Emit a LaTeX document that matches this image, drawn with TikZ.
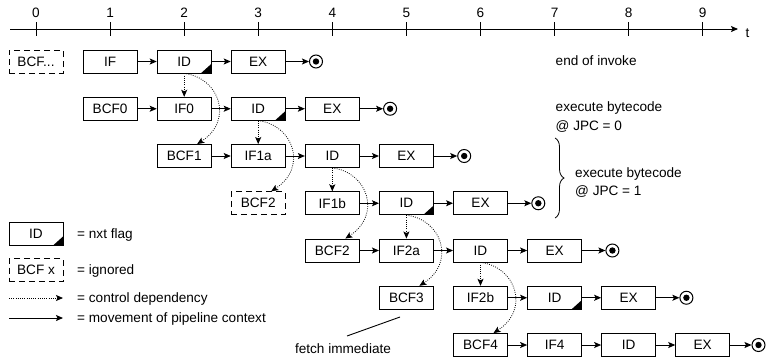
\documentclass[tikz,border=0pt]{standalone}
\usepackage{fontspec}
\setmainfont{Liberation Sans}
\usetikzlibrary{arrows.meta,decorations.pathreplacing}
\begin{document}
\begin{tikzpicture}[x=1pt,y=-1pt,
  every node/.style={font=\fontsize{13.6}{16}\selectfont},
  stage/.style={draw, line width=0.9pt, minimum width=54pt, minimum height=23pt, inner sep=0pt},
  ign/.style={stage, dash pattern=on 6pt off 4pt},
  flag/.style={path picture={\fill (path picture bounding box.south east) -- ++(-10pt,0pt) -- ++(10pt,9pt) -- cycle;}},
  endc/.style={circle, draw, line width=1pt, minimum size=13pt, inner sep=0pt,
    path picture={\fill (path picture bounding box.center) circle (3.2pt);}},
  mv/.style={line width=0.9pt, -{Stealth[length=7pt,width=6pt,inset=1.5pt]}},
  dep/.style={line width=0.8pt, dash pattern=on 0.8pt off 1.4pt, -{Stealth[length=7pt,width=6pt,inset=1.5pt]}},
  lbl/.style={anchor=base west, inner sep=0pt}
]
\useasboundingbox (0,0) rectangle (766,357);

% time axis
\coordinate (ax0) at (10,29);
\coordinate (ax1) at (738,29);
\draw[mv] (ax0) -- (ax1);
\foreach \t in {0,...,9} {
  \coordinate (tk\t) at ({36+74.08*\t},29);
  \draw[line width=0.9pt] ([yshift=7pt]tk\t) -- ([yshift=-7pt]tk\t);
  \node[anchor=base, inner sep=0pt] (tl\t) at ({36+74.08*\t},17) {\t};
}
\node[anchor=base, inner sep=0pt] (tlab) at (747.5,37) {t};

% row 1  (y=61.5)
\node[ign]        (r1a) at (36,61.5)    {BCF...};
\node[stage]      (r1b) at (110.1,61.5) {IF};
\node[stage,flag] (r1c) at (184.2,61.5) {ID};
\node[stage]      (r1d) at (258.2,61.5) {EX};
\node[endc]       (r1e) at (316,61.5) {};
% row 2
\node[stage]      (r2a) at (110.1,108.75) {BCF0};
\node[stage]      (r2b) at (184.2,108.75) {IF0};
\node[stage,flag] (r2c) at (258.2,108.75) {ID};
\node[stage]      (r2d) at (332.3,108.75) {EX};
\node[endc]       (r2e) at (390.1,108.75) {};
% row 3
\node[stage]      (r3a) at (184.2,156) {BCF1};
\node[stage]      (r3b) at (258.2,156) {IF1a};
\node[stage]      (r3c) at (332.3,156) {ID};
\node[stage]      (r3d) at (406.4,156) {EX};
\node[endc]       (r3e) at (464.2,156) {};
% row 4
\node[ign]        (r4a) at (258.2,203.25) {BCF2};
\node[stage]      (r4b) at (332.3,203.25) {IF1b};
\node[stage,flag] (r4c) at (406.4,203.25) {ID};
\node[stage]      (r4d) at (480.5,203.25) {EX};
\node[endc]       (r4e) at (538.3,203.25) {};
% row 5
\node[stage]      (r5a) at (332.3,250.5) {BCF2};
\node[stage]      (r5b) at (406.4,250.5) {IF2a};
\node[stage]      (r5c) at (480.5,250.5) {ID};
\node[stage]      (r5d) at (554.6,250.5) {EX};
\node[endc]       (r5e) at (612.4,250.5) {};
% row 6
\node[stage]      (r6a) at (406.4,297.75) {BCF3};
\node[stage]      (r6b) at (480.5,297.75) {IF2b};
\node[stage,flag] (r6c) at (554.6,297.75) {ID};
\node[stage]      (r6d) at (628.6,297.75) {EX};
\node[endc]       (r6e) at (686.4,297.75) {};
% row 7
\node[stage]      (r7a) at (480.5,345) {BCF4};
\node[stage]      (r7b) at (554.6,345) {IF4};
\node[stage]      (r7c) at (628.6,345) {ID};
\node[stage]      (r7d) at (702.7,345) {EX};
\node[endc]       (r7e) at (758.5,345) {};

% movement arrows
\foreach \r in {2,3,5,7} {
  \draw[mv] (r\r a) -- (r\r b);
}
\foreach \r in {1,...,7} {
  \draw[mv] (r\r b) -- (r\r c);
  \draw[mv] (r\r c) -- (r\r d);
  \draw[mv] (r\r d) -- (r\r e);
}

% control dependencies
\foreach \r/\s/\u in {1/2/3,2/3/4,3/4/5,4/5/6,5/6/7} {
  \draw[dep] (r\r c.south) -- (r\s b.north);
  \draw[dep] (r\r c.south) .. controls +(35,4) and +(37,-24) .. ([xshift=13pt]r\u a.north);
}

% right-hand annotations
\node[lbl] (t1) at (555.5,65.5) {end of invoke};
\node[lbl] (t2) at (555.5,111.5) {execute bytecode};
\node[lbl] (t3) at (555.5,130) {@ JPC = 0};
\coordinate (br0) at (555,138);
\coordinate (br1) at (555,218);
\draw[line width=0.8pt, decorate, decoration={brace, amplitude=9pt}] (br0) -- (br1);
\node[lbl] (t4) at (575,177) {execute bytecode};
\node[lbl] (t5) at (575,195) {@ JPC = 1};

% fetch immediate
\node[anchor=base, inner sep=0pt] (fi) at (343,353) {fetch immediate};
\coordinate (fi0) at (347,336);
\coordinate (fi1) at (400,317);
\draw[line width=0.9pt] (fi0) -- (fi1);

% legend
\node[stage,flag] (lg1) at (36,234) {ID};
\node[lbl] (lt1) at (77,238.5) {= nxt flag};
\node[ign] (lg2) at (36,270) {BCF x};
\node[lbl] (lt2) at (77,274.5) {= ignored};
\coordinate (ld0) at (9,298);
\coordinate (ld1) at (63,298);
\draw[dep] (ld0) -- (ld1);
\node[lbl] (lt3) at (77,302.5) {= control dependency};
\coordinate (lm0) at (9,318);
\coordinate (lm1) at (63,318);
\draw[mv] (lm0) -- (lm1);
\node[lbl] (lt4) at (77,322.5) {= movement of pipeline context};
\end{tikzpicture}
\end{document}
